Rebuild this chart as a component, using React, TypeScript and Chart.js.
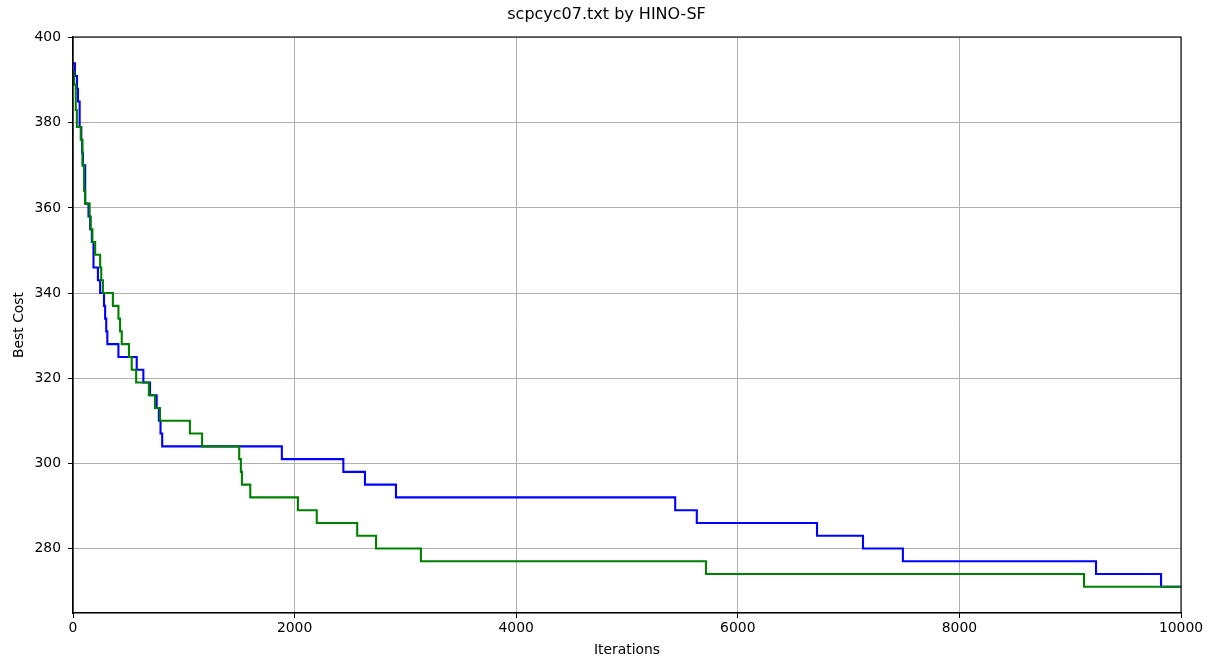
import React, { useEffect, useRef } from "react";
import { Chart, registerables } from "chart.js";

Chart.register(...registerables);

const chartTitle = "scpcyc07.txt by HINO-SF";
const xAxisLabel = "Iterations";
const yAxisLabel = "Best Cost";

const xTicks = [0, 2000, 4000, 6000, 8000, 10000];
const yTicks = [280, 300, 320, 340, 360, 380, 400];

// Blue run: iteration where best cost changes, and new best cost
const blueIters = [0, 18, 36, 45, 60, 75, 82, 90, 110, 140, 155, 170, 185, 225, 245, 280, 290, 300, 310, 410, 575, 635, 695, 755, 775, 790, 805, 1885, 2440, 2635, 2915, 5435, 5630, 6715, 7130, 7490, 9233, 9820, 10000];
const blueCosts = [394, 391, 388, 385, 379, 376, 373, 370, 361, 358, 355, 352, 346, 343, 340, 337, 334, 331, 328, 325, 322, 319, 316, 313, 310, 307, 304, 301, 298, 295, 292, 289, 286, 283, 280, 277, 274, 271, 271];

// Green run
const greenIters = [0, 10, 25, 35, 70, 85, 100, 110, 150, 160, 175, 200, 245, 255, 270, 360, 410, 425, 440, 505, 530, 570, 685, 740, 785, 1055, 1165, 1500, 1515, 1525, 1600, 2030, 2200, 2565, 2735, 3140, 5713, 9125, 10000];
const greenCosts = [392, 389, 383, 379, 376, 370, 364, 361, 358, 355, 352, 349, 346, 343, 340, 337, 334, 331, 328, 325, 322, 319, 316, 313, 310, 307, 304, 301, 298, 295, 292, 289, 286, 283, 280, 277, 274, 271, 271];

const FONT = "'DejaVu Sans', sans-serif";

export default function App() {
  const ref = useRef<HTMLCanvasElement | null>(null);

  useEffect(() => {
    document.body.style.margin = "0";
    const canvas = ref.current;
    if (!canvas) return;
    const toPts = (xs: number[], ys: number[]) => xs.map((x, i) => ({ x, y: ys[i] }));
    const chart = new Chart(canvas, {
      type: "line",
      data: {
        datasets: [
          {
            label: "green",
            data: toPts(greenIters, greenCosts),
            borderColor: "#008000",
            backgroundColor: "#008000",
            borderWidth: 2.1,
            pointRadius: 0,
            stepped: true,
            fill: false,
          },
          {
            label: "blue",
            data: toPts(blueIters, blueCosts),
            borderColor: "#0000ff",
            backgroundColor: "#0000ff",
            borderWidth: 2.1,
            pointRadius: 0,
            stepped: true,
            fill: false,
          },
        ],
      },
      options: {
        responsive: false,
        animation: false,
        layout: { padding: { top: 37, right: 32, bottom: 0, left: 0 } },
        plugins: {
          legend: { display: false },
          tooltip: { enabled: false },
          title: { display: false },
        },
        scales: {
          x: {
            type: "linear",
            min: 0,
            max: 10000,
            afterBuildTicks: (s: any) => {
              s.ticks = xTicks.map((v) => ({ value: v }));
            },
            afterFit: (s: any) => {
              s.height = 44;
            },
            ticks: {
              color: "#000",
              font: { family: FONT, size: 13.9, lineHeight: 1.2 },
              maxRotation: 0,
              padding: 2,
              callback: (v: any) => String(v),
            },
            grid: {
              color: "#b0b0b0",
              lineWidth: 1,
              tickColor: "#000",
              tickLength: 5,
            },
            border: { color: "#000", width: 1.1 },
            title: {
              display: true,
              text: xAxisLabel,
              color: "#000",
              font: { family: FONT, size: 13.9, lineHeight: 1.2 },
              padding: { top: 0, bottom: -2 },
            },
          },
          y: {
            type: "linear",
            min: 264.85,
            max: 400.15,
            afterBuildTicks: (s: any) => {
              s.ticks = yTicks.map((v) => ({ value: v }));
            },
            afterFit: (s: any) => {
              s.width = 73;
            },
            ticks: {
              color: "#000",
              font: { family: FONT, size: 13.9, lineHeight: 1.2 },
              padding: 7,
              callback: (v: any) => String(v),
            },
            grid: {
              color: "#b0b0b0",
              lineWidth: 1,
              tickColor: "#000",
              tickLength: 5,
            },
            border: { color: "#000", width: 1.1 },
            title: {
              display: true,
              text: yAxisLabel,
              color: "#000",
              font: { family: FONT, size: 13.9, lineHeight: 1.2 },
              padding: { top: 11, bottom: 0 },
            },
          },
        },
      },
      plugins: [
        {
          id: "frameAndTitle",
          afterDraw(c: any) {
            const { ctx, chartArea } = c;
            ctx.save();
            ctx.strokeStyle = "#000";
            ctx.lineWidth = 1.1;
            ctx.strokeRect(chartArea.left, chartArea.top, chartArea.right - chartArea.left, chartArea.bottom - chartArea.top);
            ctx.fillStyle = "#000";
            ctx.font = `16px ${FONT}`;
            ctx.textAlign = "center";
            ctx.textBaseline = "middle";
            ctx.fillText(chartTitle, c.width / 2, 15);
            ctx.restore();
          },
        },
      ],
    } as any);
    return () => chart.destroy();
  }, []);

  return <canvas ref={ref} width={1213} height={657} style={{ display: "block" }} />;
}
